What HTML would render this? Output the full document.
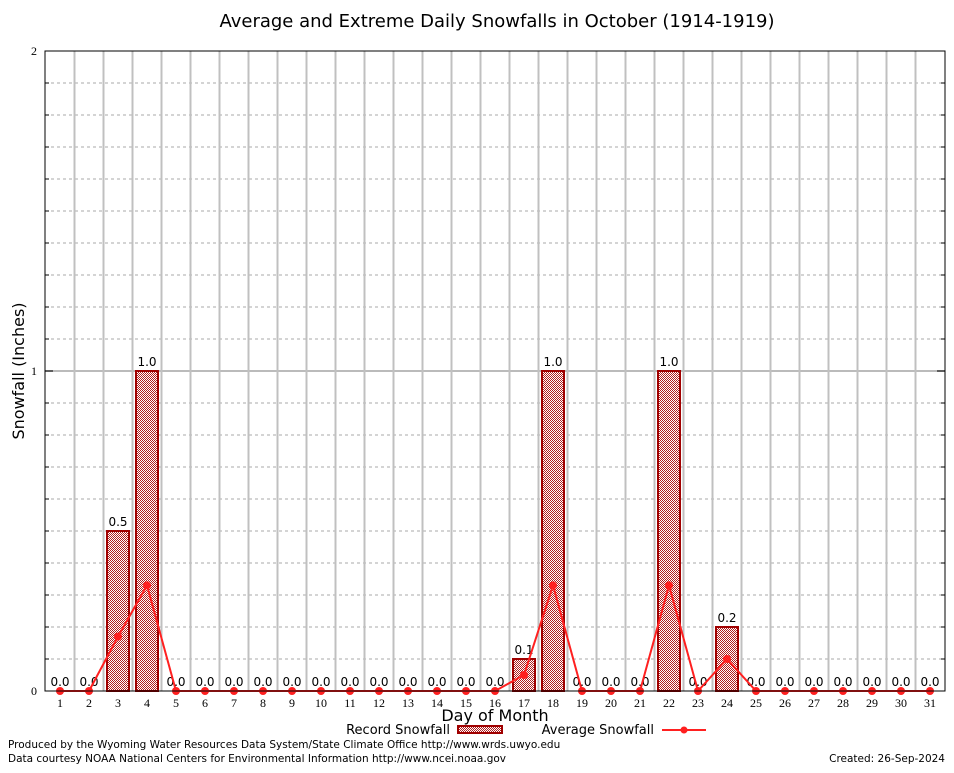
<!DOCTYPE html>
<html><head><meta charset="utf-8"><style>
body{margin:0;background:#fff;width:954px;height:768px;overflow:hidden}
text{font-family:"DejaVu Sans","Liberation Sans",sans-serif}
</style></head><body>
<svg id="chart" width="954" height="768" xmlns="http://www.w3.org/2000/svg">
<defs><pattern id="hatch" width="2" height="2" patternUnits="userSpaceOnUse">
<rect width="2" height="2" fill="#fff"/><rect x="0" y="0" width="1" height="1" fill="#b02020"/><rect x="1" y="1" width="1" height="1" fill="#b02020"/></pattern></defs>
<rect x="0" y="0" width="954" height="768" fill="#fff"/>
<text x="497" y="27" font-size="18" text-anchor="middle">Average and Extreme Daily Snowfalls in October (1914-1919)</text>
<g id="grid"></g>
<g id="bars"></g>
<g id="avg"></g>
<g id="axes"></g>
<text transform="translate(24,371) rotate(-90)" font-size="16" text-anchor="middle">Snowfall (Inches)</text>
<text x="495" y="721" font-size="16" text-anchor="middle">Day of Month</text>
<g>
<text x="450" y="734" font-size="13" text-anchor="end">Record Snowfall</text>
<rect x="458" y="726" width="44" height="7" fill="url(#hatch)" stroke="#a00000" stroke-width="2"/>
<text x="654" y="734" font-size="13" text-anchor="end">Average Snowfall</text>
<line x1="662" y1="730" x2="706" y2="730" stroke="#ff2020" stroke-width="2"/>
<circle cx="684" cy="730" r="3.5" fill="#ff2020"/>
</g>
<text x="8" y="748" font-size="10.5">Produced by the Wyoming Water Resources Data System/State Climate Office http://www.wrds.uwyo.edu</text>
<text x="8" y="762" font-size="10.5">Data courtesy NOAA National Centers for Environmental Information http://www.ncei.noaa.gov</text>
<text x="945" y="762" font-size="10.5" text-anchor="end">Created:  26-Sep-2024</text>
</svg>
<script>
const days=[1,2,3,4,5,6,7,8,9,10,11,12,13,14,15,16,17,18,19,20,21,22,23,24,25,26,27,28,29,30,31];
const recordVals=[0,0,0.5,1.0,0,0,0,0,0,0,0,0,0,0,0,0,0.1,1.0,0,0,0,1.0,0,0.2,0,0,0,0,0,0,0];
const avgVals=[0,0,0.17,0.33,0,0,0,0,0,0,0,0,0,0,0,0,0.05,0.33,0,0,0,0.33,0,0.1,0,0,0,0,0,0,0];
const yTicks=[0,1,2];
const NS="http://www.w3.org/2000/svg";
const L=45,R=945,T=51,B=691;
const x=d=>60+(d-1)*29;
const y=v=>B-v*(B-T)/2;
function mk(tag,attrs,parent){const e=document.createElementNS(NS,tag);for(const k in attrs)e.setAttribute(k,attrs[k]);parent.appendChild(e);return e;}
const grid=document.getElementById('grid'),bars=document.getElementById('bars'),avg=document.getElementById('avg'),axes=document.getElementById('axes');
for(let i=1;i<20;i++){if(i%10===0)continue;const gy=y(i/10);
const l=mk('line',{x1:L,y1:gy,x2:R,y2:gy,stroke:'#aaa','stroke-dasharray':'3,3','stroke-width':1},grid);
}
[1].forEach(v=>{const l=mk('line',{x1:L,y1:y(v),x2:R,y2:y(v),stroke:'#bbb','stroke-width':2},grid);
});
for(let i=0;i<days.length-1;i++){const gx=(x(days[i])+x(days[i+1]))/2;
const l=mk('line',{x1:gx,y1:T,x2:gx,y2:B,stroke:'#c0c0c0','stroke-width':2},grid);
}
days.forEach((d,i)=>{const v=recordVals[i];
if(v>0){const r=mk('rect',{x:x(d)-11,y:y(v),width:22,height:B-y(v),fill:'url(#hatch)',stroke:'#a00000','stroke-width':2},bars);
}
const t=mk('text',{x:x(d),y:y(v)-5,'font-size':12,'text-anchor':'middle'},bars);t.textContent=v.toFixed(1);
});
const pl=mk('polyline',{points:days.map((d,i)=>x(d)+','+y(avgVals[i])).join(' '),fill:'none',stroke:'#ff2020','stroke-width':2},avg);

days.forEach((d,i)=>{const c=mk('circle',{cx:x(d),cy:y(avgVals[i]),r:4,fill:'#ff2020'},avg);
});
const fr=mk('rect',{x:L,y:T,width:R-L,height:B-T,fill:'none',stroke:'#000','stroke-width':1},axes);

yTicks.forEach(v=>{const t=mk('text',{x:L-8,y:y(v)+4,'font-size':12,'text-anchor':'end'},axes);t.textContent=v;
t.style.fontFamily='"Liberation Serif", serif';
});
for(let i=0;i<=20;i++){const len=i%10===0?8:4;
const a=mk('line',{x1:L,y1:y(i/10),x2:L+len,y2:y(i/10),stroke:'#000'},axes);
const b=mk('line',{x1:R,y1:y(i/10),x2:R-len,y2:y(i/10),stroke:'#000'},axes);}
days.forEach(d=>{const t=mk('text',{x:x(d),y:B+16,'font-size':12,'text-anchor':'middle'},axes);t.textContent=d;
t.style.fontFamily='"Liberation Serif", serif';
});
</script>
</body></html>
